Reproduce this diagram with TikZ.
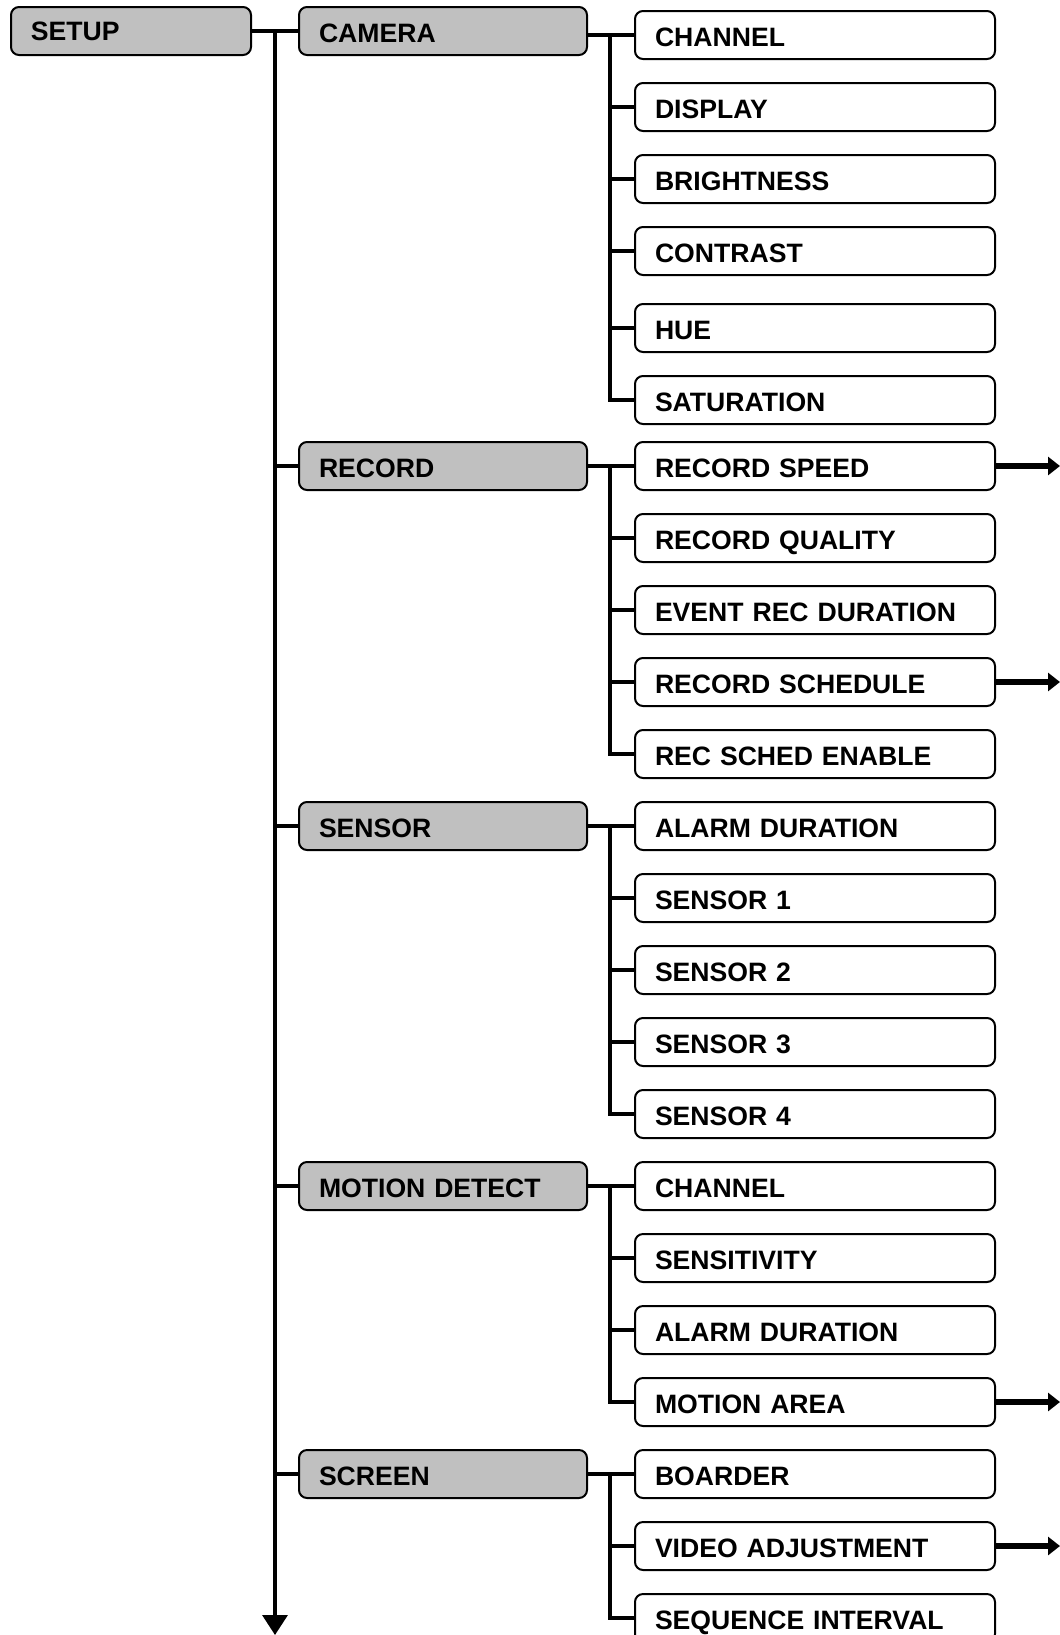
\documentclass[tikz,border=0pt]{standalone}
\usepackage{fontspec}
\setmainfont{Liberation Sans}
\usetikzlibrary{arrows.meta}
\definecolor{menugray}{HTML}{C0C0C0}

\begin{document}
\begin{tikzpicture}[x=0.5pt,y=-0.5pt,
        menu/.style={shape=rectangle,draw=black,line width=1pt,rounded corners=4pt,
            fill=menugray,minimum height=24pt,inner xsep=10pt,align=left,
            text height=11pt,text depth=0pt,
            font=\fontsize{13.3pt}{15pt}\selectfont\bfseries},
        group/.style={menu,text width=124pt},
        item/.style={menu,fill=white,text width=160pt},
        link/.style={line width=1.7pt},
        more/.style={line width=2.8pt,-{Triangle[length=6pt,width=9pt]}}]
                \clip (0,0) rectangle (1060,1635);

                % top level
                \node[menu,text width=100pt,text height=9.6pt] (setup) at (131,31) {SETUP};
                \coordinate (top) at (275,31);
                \coordinate (bottom) at (275,1635);
                \coordinate (edge) at (1060,0);

                % second level
                \node[group] (cam) at (443,31) {CAMERA};
                \node[group] (rec) at (443,466) {RECORD};
                \node[group] (sen) at (443,826) {SENSOR};
                \node[group] (mot) at (443,1186) {MOTION DETECT};
                \node[group] (scr) at (443,1474) {SCREEN};

                % camera
                \node[item] (c1) at (815,35) {CHANNEL};
                \node[item] (c2) at (815,107) {DISPLAY};
                \node[item] (c3) at (815,179) {BRIGHTNESS};
                \node[item] (c4) at (815,251) {CONTRAST};
                \node[item] (c5) at (815,328) {HUE};
                \node[item] (c6) at (815,400) {SATURATION};

                % record
                \node[item] (r1) at (815,466) {RECORD SPEED};
                \node[item] (r2) at (815,538) {RECORD QUALITY};
                \node[item] (r3) at (815,610) {EVENT REC DURATION};
                \node[item] (r4) at (815,682) {RECORD SCHEDULE};
                \node[item] (r5) at (815,754) {REC SCHED ENABLE};

                % sensor
                \node[item] (s1) at (815,826) {ALARM DURATION};
                \node[item] (s2) at (815,898) {SENSOR 1};
                \node[item] (s3) at (815,970) {SENSOR 2};
                \node[item] (s4) at (815,1042) {SENSOR 3};
                \node[item] (s5) at (815,1114) {SENSOR 4};

                % motion detect
                \node[item] (m1) at (815,1186) {CHANNEL};
                \node[item] (m2) at (815,1258) {SENSITIVITY};
                \node[item] (m3) at (815,1330) {ALARM DURATION};
                \node[item] (m4) at (815,1402) {MOTION AREA};

                % screen
                \node[item] (v1) at (815,1474) {BOARDER};
                \node[item] (v2) at (815,1546) {VIDEO ADJUSTMENT};
                \node[item] (v3) at (815,1618) {SEQUENCE INTERVAL};

                % main trunk
                \draw[link] (setup.east) -- (cam.west);
                \draw[link,-{Triangle[length=10pt,width=12.5pt]}] (top) -- (bottom);
                \path[link] (top |- rec) edge (rec.west);
                \path[link] (top |- sen) edge (sen.west);
                \path[link] (top |- mot) edge (mot.west);
                \path[link] (top |- scr) edge (scr.west);

                % branches
                \draw[link] (cam.east |- c1) -- (c1.west);
                \draw[link] ([xshift=-12pt]c1.west) |- (c6.west);
                \path[link] ([xshift=-12pt]c2.west) edge (c2.west);
                \path[link] ([xshift=-12pt]c3.west) edge (c3.west);
                \path[link] ([xshift=-12pt]c4.west) edge (c4.west);
                \path[link] ([xshift=-12pt]c5.west) edge (c5.west);

                \draw[link] (rec.east |- r1) -- (r1.west);
                \draw[link] ([xshift=-12pt]r1.west) |- (r5.west);
                \path[link] ([xshift=-12pt]r2.west) edge (r2.west);
                \path[link] ([xshift=-12pt]r3.west) edge (r3.west);
                \path[link] ([xshift=-12pt]r4.west) edge (r4.west);

                \draw[link] (sen.east |- s1) -- (s1.west);
                \draw[link] ([xshift=-12pt]s1.west) |- (s5.west);
                \path[link] ([xshift=-12pt]s2.west) edge (s2.west);
                \path[link] ([xshift=-12pt]s3.west) edge (s3.west);
                \path[link] ([xshift=-12pt]s4.west) edge (s4.west);

                \draw[link] (mot.east |- m1) -- (m1.west);
                \draw[link] ([xshift=-12pt]m1.west) |- (m4.west);
                \path[link] ([xshift=-12pt]m2.west) edge (m2.west);
                \path[link] ([xshift=-12pt]m3.west) edge (m3.west);

                \draw[link] (scr.east |- v1) -- (v1.west);
                \draw[link] ([xshift=-12pt]v1.west) |- (v3.west);
                \path[link] ([xshift=-12pt]v2.west) edge (v2.west);

                % further menus
                \draw[more] (r1.east) -- (r1.east -| edge);
                \draw[more] (r4.east) -- (r4.east -| edge);
                \draw[more] (m4.east) -- (m4.east -| edge);
                \draw[more] (v2.east) -- (v2.east -| edge);
            \end{tikzpicture}
\end{document}
